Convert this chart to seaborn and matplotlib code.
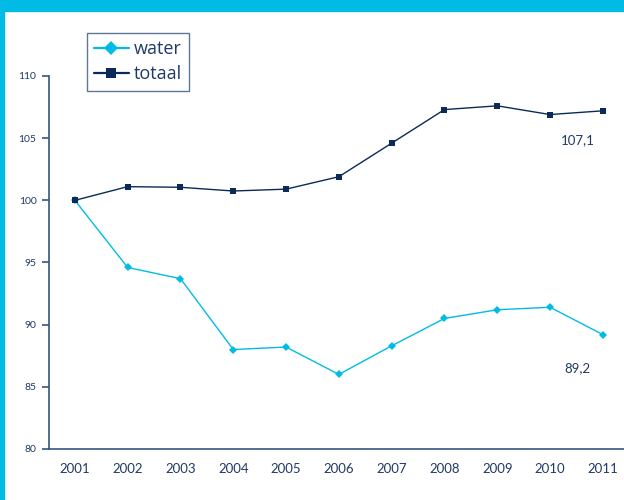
import matplotlib
matplotlib.use("Agg")
import matplotlib.pyplot as plt
import seaborn as sns
import pandas as pd
from matplotlib.patches import Rectangle

# data (index 2001 = 100)
years = [2001, 2002, 2003, 2004, 2005, 2006, 2007, 2008, 2009, 2010, 2011]
water = [100.0, 94.6, 93.7, 88.0, 88.2, 86.0, 88.3, 90.5, 91.2, 91.4, 89.2]
totaal = [100.0, 101.1, 101.05, 100.75, 100.9, 101.9, 104.6, 107.3, 107.6, 106.9, 107.2]
y_ticks = [80, 85, 90, 95, 100, 105, 110]

CYAN = "#00bce4"
NAVY = "#0b2a58"
AXIS = "#34557f"
TEXT = "#1f3a66"

sns.set_theme(style="white")
plt.rcParams["font.family"] = ["Lato", "DejaVu Sans"]

df = pd.DataFrame({"year": years, "water": water, "totaal": totaal})

fig = plt.figure(figsize=(6.24, 5.0), dpi=100)
ax = fig.add_axes([49 / 624, 51 / 500, 575 / 624, 373 / 500])

sns.lineplot(data=df, x="year", y="water", ax=ax, color=CYAN, lw=1.0,
             marker="D", markersize=4, markeredgewidth=0, label="water")
sns.lineplot(data=df, x="year", y="totaal", ax=ax, color=NAVY, lw=1.0,
             marker="s", markersize=5, markeredgewidth=0, label="totaal")

ax.set_xlim(2000.51, 2011.40)
ax.set_ylim(80, 110)
ax.set_xticks(years)
ax.set_xticklabels([str(y) for y in years])
ax.set_yticks(y_ticks)
ax.set_xlabel("")
ax.set_ylabel("")

for side in ["top", "right"]:
    ax.spines[side].set_visible(False)
for side in ["left", "bottom"]:
    ax.spines[side].set_color(AXIS)
    ax.spines[side].set_linewidth(1.2)

ax.tick_params(axis="y", which="both", left=True, length=5, width=1.2,
               color=AXIS, labelsize=7.5, labelcolor=TEXT, pad=4)
ax.tick_params(axis="x", bottom=False, labelsize=9.5, labelcolor=TEXT, pad=4)

ax.text(2010.2, 104.8, "107,1", fontsize=9.5, color=TEXT, va="center")
ax.text(2010.27, 86.5, "89,2", fontsize=9.5, color=TEXT, va="center")

leg = ax.legend(loc="upper left", bbox_to_anchor=(87 / 624, 1 - 33 / 500),
                bbox_transform=fig.transFigure, frameon=True, fancybox=False,
                prop={"family": ["Open Sans", "DejaVu Sans"], "size": 13},
                handlelength=1.9, handletextpad=0.3, labelspacing=0.4,
                borderpad=0.4, borderaxespad=0)
leg.get_frame().set_edgecolor(AXIS)
leg.get_frame().set_linewidth(1.0)
for t in leg.get_texts():
    t.set_color(TEXT)
for h, ms in zip(leg.legend_handles, [7, 7.5]):
    h.set_markersize(ms)
    h.set_linewidth(1.6)

# cyan frame at top and left of the picture
fig.patches.append(Rectangle((0, 1 - 11 / 500), 1, 11 / 500, transform=fig.transFigure,
                             color=CYAN, zorder=0))
fig.patches.append(Rectangle((0, 0), 4 / 624, 1, transform=fig.transFigure,
                             color=CYAN, zorder=0))

fig.savefig("out.png", dpi=100)
